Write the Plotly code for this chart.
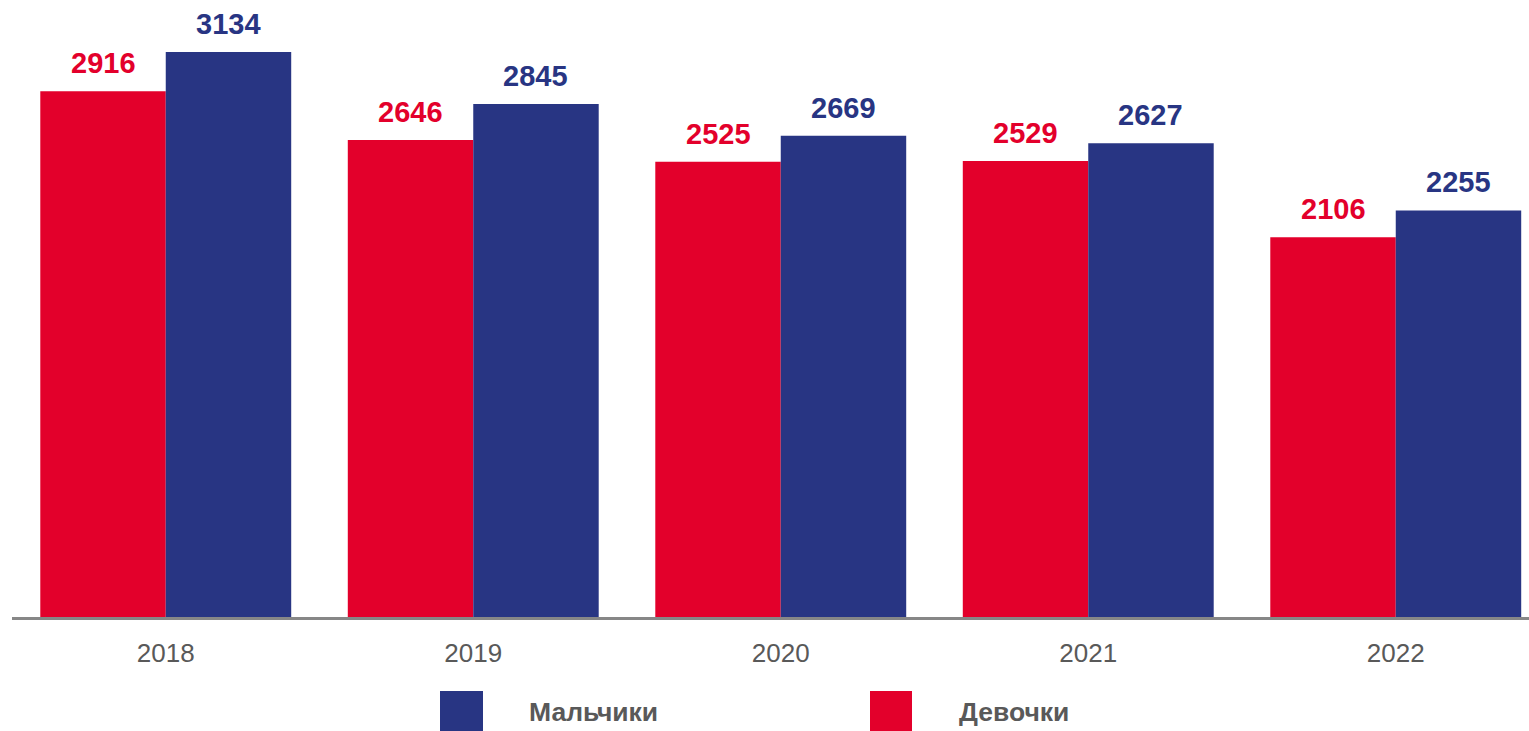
import plotly.graph_objects as go

years = ["2018", "2019", "2020", "2021", "2022"]
girls = [2916, 2646, 2525, 2529, 2106]
boys = [3134, 2845, 2669, 2627, 2255]
girls_name = "Девочки"
boys_name = "Мальчики"

RED = "#E3002B"
BLUE = "#283583"
GRAY_TXT = "#595959"

W, H = 1529, 731
ML, MR, MT, MB = 12, 0, 0, 114
PW, PH = W - ML - MR, H - MT - MB

def px_x(x):
    return (x - ML) / PW

def px_y(y):
    return (H - MB - y) / PH

fig = go.Figure()
fig.add_trace(go.Bar(x=years, y=girls, name=girls_name, marker=dict(color=RED, line=dict(width=0))))
fig.add_trace(go.Bar(x=years, y=boys, name=boys_name, marker=dict(color=BLUE, line=dict(width=0))))

half = 307.5 * (1 - 0.184) / 4
annotations = []
for i, yr in enumerate(years):
    annotations.append(dict(x=i, y=girls[i], xref="x", yref="y", text="<b>%d</b>" % girls[i],
                            showarrow=False, xshift=-half, yshift=10, yanchor="bottom",
                            font=dict(size=29, color=RED, family="Liberation Sans, Arial")))
    annotations.append(dict(x=i, y=boys[i], xref="x", yref="y", text="<b>%d</b>" % boys[i],
                            showarrow=False, xshift=half, yshift=10, yanchor="bottom",
                            font=dict(size=29, color=BLUE, family="Liberation Sans, Arial")))

shapes = []
for (x0, x1, col, label, tx) in [(440, 483, BLUE, boys_name, 527), (870, 912, RED, girls_name, 957)]:
    shapes.append(dict(type="rect", xref="paper", yref="paper", x0=px_x(x0), x1=px_x(x1),
                       y0=px_y(731), y1=px_y(691), fillcolor=col, line=dict(width=0)))
    annotations.append(dict(x=px_x(tx), y=px_y(712), xref="paper", yref="paper", text="<b>%s</b>" % label,
                            showarrow=False, xanchor="left", yanchor="middle",
                            font=dict(size=26.5, color=GRAY_TXT, family="Liberation Sans, Arial")))

fig.update_layout(
    width=W, height=H,
    margin=dict(l=ML, r=MR, t=MT, b=MB),
    plot_bgcolor="white", paper_bgcolor="white",
    barmode="group", bargap=0.184, bargroupgap=0,
    showlegend=False,
    annotations=annotations, shapes=shapes,
    xaxis=dict(type="category", range=[-0.5, 4.5 - 20.5 / 307.5], showline=True, linecolor="#878787",
               linewidth=3, ticks="", showgrid=False, ticklabelstandoff=11,
               tickfont=dict(size=26, color=GRAY_TXT, family="Liberation Sans, Arial")),
    yaxis=dict(range=[0, 3422], visible=False, showgrid=False),
)

fig.write_html("out.html", config={"displayModeBar": False},
               post_script="document.body.style.margin='0';document.body.style.overflow='hidden';")
